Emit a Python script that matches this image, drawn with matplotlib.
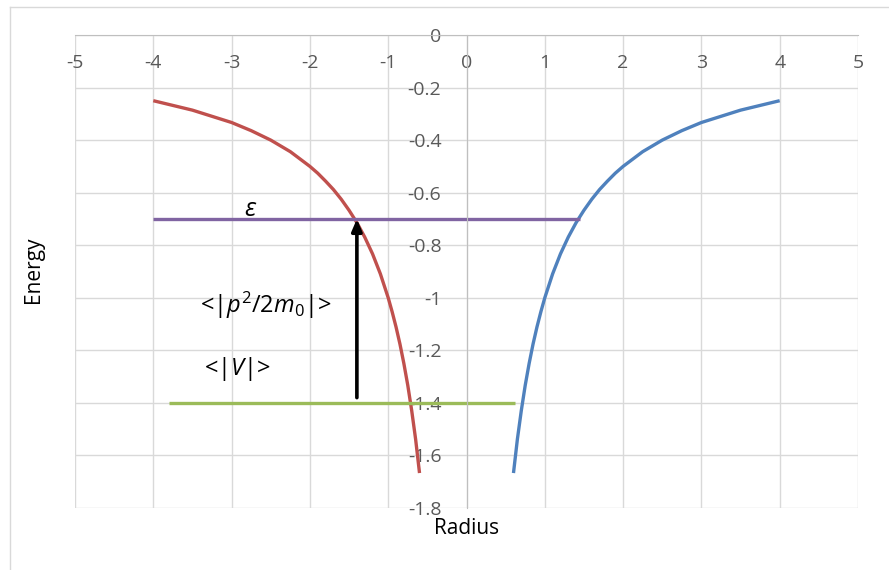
import matplotlib
matplotlib.use("Agg")
import matplotlib.pyplot as plt
from matplotlib.lines import Line2D

plt.rcParams['font.family'] = ['Open Sans', 'DejaVu Sans']
plt.rcParams['axes.unicode_minus'] = False
plt.rcParams['mathtext.fontset'] = 'custom'
plt.rcParams['mathtext.rm'] = 'Open Sans'
plt.rcParams['mathtext.it'] = 'Open Sans:italic'

# potential curve, left branch
r_left = [-4.0, -3.5, -3.0, -2.75, -2.5, -2.25, -2.0, -1.9, -1.8, -1.7, -1.6,
          -1.5, -1.4, -1.3, -1.2, -1.1, -1.0, -0.95, -0.9, -0.85, -0.8, -0.75,
          -0.7, -0.65, -0.6]
e_left = [-0.25, -0.286, -0.333, -0.364, -0.4, -0.444, -0.5, -0.526, -0.556,
          -0.588, -0.625, -0.667, -0.714, -0.769, -0.833, -0.909, -1.0, -1.053,
          -1.111, -1.176, -1.25, -1.333, -1.429, -1.538, -1.667]
# right branch
r_right = [0.6, 0.65, 0.7, 0.75, 0.8, 0.85, 0.9, 0.95, 1.0, 1.1, 1.2, 1.3, 1.4,
           1.5, 1.6, 1.7, 1.8, 1.9, 2.0, 2.25, 2.5, 2.75, 3.0, 3.5, 4.0]
e_right = [-1.667, -1.538, -1.429, -1.333, -1.25, -1.176, -1.111, -1.053, -1.0,
           -0.909, -0.833, -0.769, -0.714, -0.667, -0.625, -0.588, -0.556,
           -0.526, -0.5, -0.444, -0.4, -0.364, -0.333, -0.286, -0.25]

# energy level and mean potential level
eps_x = [-4.0, 1.45]
eps_y = [-0.7, -0.7]
v_x = [-3.8, 0.62]
v_y = [-1.4, -1.4]

# arrow for kinetic energy
arrow_x = -1.4
arrow_from = -1.38
arrow_to = -0.7

xticks = [-5, -4, -3, -2, -1, 0, 1, 2, 3, 4, 5]
yticks = [0, -0.2, -0.4, -0.6, -0.8, -1.0, -1.2, -1.4, -1.6, -1.8]
ylabels = ['0', '-0.2', '-0.4', '-0.6', '-0.8', '-1', '-1.2', '-1.4', '-1.6', '-1.8']

fig = plt.figure(figsize=(8.89, 5.7), dpi=100)
ax = fig.add_axes([75/889, 1-508/570, (858-75)/889, (508-35)/570])

gray = '#595959'
grid = '#D9D9D9'

ax.plot(r_left, e_left, color='#C0504D', lw=2.4, solid_capstyle='butt')
ax.plot(r_right, e_right, color='#4F81BD', lw=2.4, solid_capstyle='butt')
ax.plot(eps_x, eps_y, color='#8064A2', lw=2.4, solid_capstyle='butt')
ax.plot(v_x, v_y, color='#9BBB59', lw=2.4, solid_capstyle='butt')
ax.annotate('', xy=(arrow_x, arrow_to), xytext=(arrow_x, arrow_from),
            arrowprops=dict(arrowstyle='-|>,head_length=0.7,head_width=0.3',
                            color='black', lw=2.6, shrinkA=0, shrinkB=0))

ax.text(-2.76, -0.665, r'$\varepsilon$', fontsize=18, ha='center', va='center')
ax.text(-2.57, -1.03, r'<|$p^{2}$/2$m_{0}$|>', fontsize=17, ha='center', va='center')
ax.text(-2.93, -1.27, r'<|$V$|>', fontsize=17, ha='center', va='center')

ax.set_xlim(-5, 5)
ax.set_ylim(-1.8, 0)
ax.set_xticks(xticks)
ax.set_yticks(yticks)
ax.set_yticklabels(ylabels)
ax.grid(True, color=grid, lw=1)
ax.set_axisbelow(True)

ax.spines['bottom'].set_position(('data', 0))
ax.spines['left'].set_position(('data', 0))
ax.spines['top'].set_visible(False)
ax.spines['right'].set_visible(False)
ax.spines['bottom'].set_color('#BFBFBF')
ax.spines['left'].set_color('#BFBFBF')
ax.tick_params(axis='x', length=0, pad=14, labelsize=14, labelcolor=gray)
ax.tick_params(axis='y', length=0, pad=18, labelsize=14, labelcolor=gray)

fig.text(33/889, 1-270/570, 'Energy', rotation=90, fontsize=15,
         ha='center', va='center')
fig.text(467/889, 1-529/570, 'Radius', fontsize=15, ha='center', va='center')

# chart border
fig.add_artist(Line2D([10/889, 10/889], [0, 1-7/570], color=grid, lw=1,
                      transform=fig.transFigure))
fig.add_artist(Line2D([10/889, 1], [1-7/570, 1-7/570], color=grid, lw=1,
                      transform=fig.transFigure))

fig.savefig('out.png', dpi=100, facecolor='white')
